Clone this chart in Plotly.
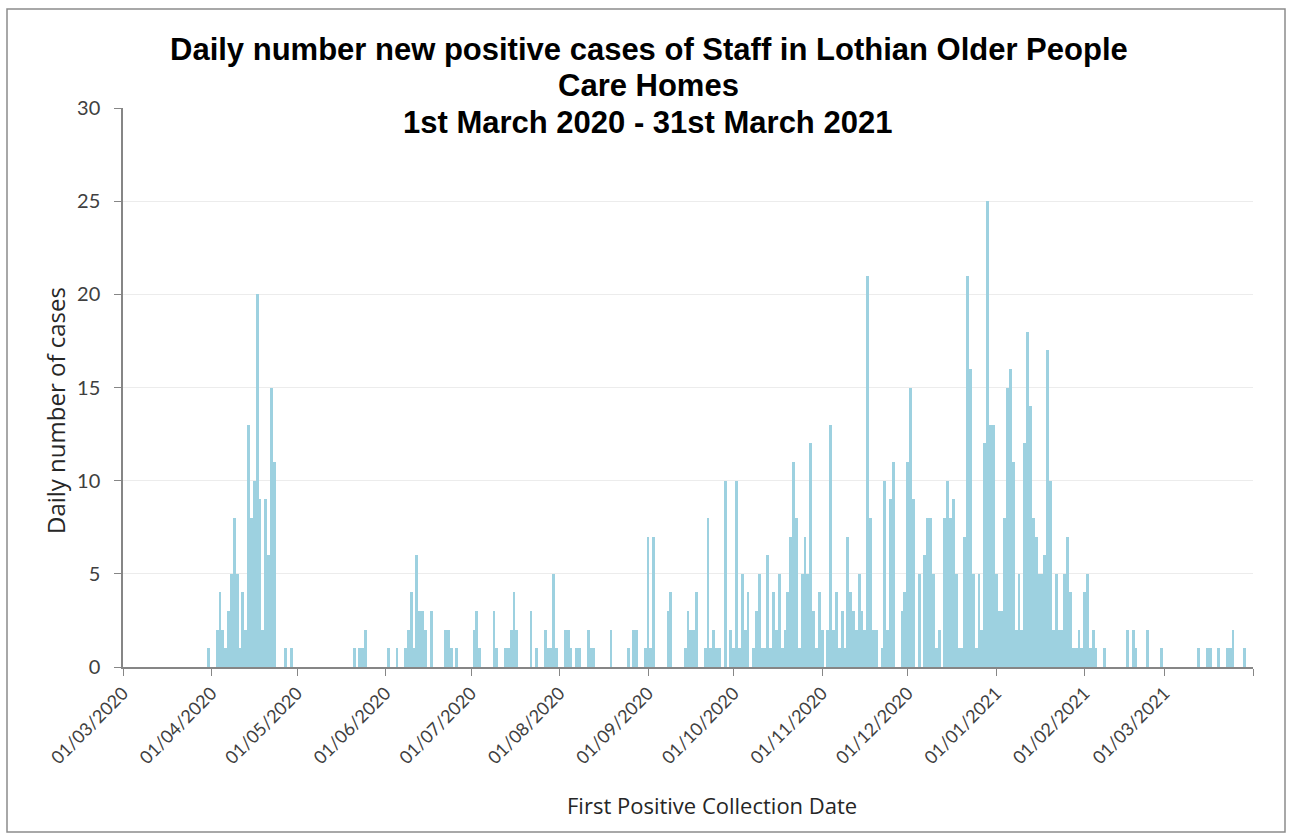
import pandas as pd
import plotly.graph_objects as go

# Daily counts of new positive staff cases, one list per calendar month
mar_2020 = [0, 0, 0, 0, 0, 0, 0, 0, 0, 0, 0, 0, 0, 0, 0, 0, 0, 0, 0, 0,
            0, 0, 0, 0, 0, 0, 0, 0, 0, 0, 1]
apr_2020 = [0, 0, 2, 4, 2, 1, 3, 5, 8, 5, 1, 4, 2, 13, 8, 10, 20, 9, 2, 9,
            6, 15, 11, 0, 0, 0, 1, 0, 1, 0]
may_2020 = [0, 0, 0, 0, 0, 0, 0, 0, 0, 0, 0, 0, 0, 0, 0, 0, 0, 0, 0, 0,
            1, 0, 1, 1, 2, 0, 0, 0, 0, 0, 0]
jun_2020 = [0, 1, 0, 0, 1, 0, 0, 1, 2, 4, 1, 6, 3, 3, 2, 0, 3, 0, 0, 0,
            0, 2, 2, 1, 0, 1, 0, 0, 0, 0]
jul_2020 = [0, 2, 3, 1, 0, 0, 0, 0, 3, 1, 0, 0, 1, 1, 2, 4, 2, 0, 0, 0,
            0, 3, 0, 1, 0, 0, 2, 1, 1, 5, 1]
aug_2020 = [0, 0, 2, 2, 1, 0, 1, 1, 0, 0, 2, 1, 1, 0, 0, 0, 0, 0, 2, 0,
            0, 0, 0, 0, 1, 0, 2, 2, 0, 0, 1]
sep_2020 = [7, 1, 7, 0, 0, 0, 0, 3, 4, 0, 0, 0, 0, 1, 3, 2, 2, 4, 0, 0,
            1, 8, 1, 2, 1, 1, 0, 10, 0, 2]
oct_2020 = [1, 10, 1, 5, 2, 4, 0, 1, 3, 5, 1, 1, 6, 1, 4, 2, 5, 1, 2, 4,
            7, 11, 8, 1, 5, 7, 5, 12, 3, 1, 4]
nov_2020 = [2, 0, 2, 13, 2, 4, 1, 3, 1, 7, 4, 3, 2, 5, 3, 2, 21, 8, 2, 2,
            0, 1, 10, 2, 9, 11, 0, 0, 3, 4]
dec_2020 = [11, 15, 9, 0, 5, 0, 6, 8, 8, 5, 1, 2, 0, 8, 10, 8, 9, 5, 1, 1,
            7, 21, 16, 5, 1, 5, 2, 12, 25, 13, 13]
jan_2021 = [5, 3, 3, 8, 15, 16, 11, 2, 5, 2, 12, 18, 14, 8, 7, 5, 5, 6, 17, 10,
            2, 5, 2, 2, 5, 7, 4, 1, 1, 2, 1]
feb_2021 = [4, 5, 1, 2, 1, 0, 0, 1, 0, 0, 0, 0, 0, 0, 0, 2, 0, 2, 1, 0,
            0, 0, 2, 0, 0, 0, 0, 1]
mar_2021 = [0, 0, 0, 0, 0, 0, 0, 0, 0, 0, 0, 0, 1, 0, 0, 1, 1, 0, 0, 1,
            0, 0, 1, 1, 2, 0, 0, 0, 1, 0, 0]

monthly = [
    ("2020-03-01", mar_2020), ("2020-04-01", apr_2020), ("2020-05-01", may_2020),
    ("2020-06-01", jun_2020), ("2020-07-01", jul_2020), ("2020-08-01", aug_2020),
    ("2020-09-01", sep_2020), ("2020-10-01", oct_2020), ("2020-11-01", nov_2020),
    ("2020-12-01", dec_2020), ("2021-01-01", jan_2021), ("2021-02-01", feb_2021),
    ("2021-03-01", mar_2021),
]

dates, cases = [], []
for start, vals in monthly:
    dates.extend(pd.date_range(start, periods=len(vals), freq="D"))
    cases.extend(vals)

# month-start ticks; the closing tick at the right end carries no label
month_ticks = pd.date_range("2020-03-01", "2021-04-01", freq="MS")
month_labels = [d.strftime("%d/%m/%Y") for d in month_ticks[:-1]] + [""]

title_lines = [
    "Daily number new positive cases of Staff in Lothian Older People",
    "Care Homes",
    "1st March 2020 - 31st March 2021",
]
y_title = "Daily number of cases"
x_title = "First Positive Collection Date"

# plot-area geometry in pixels, used to place the free-floating text and frame
W, H = 1289, 838
L, R, T, B = 123, 36, 108, 171
pw, ph = W - L - R, H - T - B


def px_x(p):
    return (p - L) / pw


def px_y(p):
    return (H - B - p) / ph


axis_grey = "#868686"
title_font = dict(family="Liberation Sans", size=31, color="black", weight="bold")

fig = go.Figure(
    go.Bar(
        x=dates,
        y=cases,
        marker=dict(color="#9dd1e0", line=dict(width=0)),
        hoverinfo="x+y",
    )
)

title_anns = [
    dict(text=line, xref="paper", yref="paper", x=px_x(cx), y=px_y(cy),
         xanchor="center", yanchor="middle", showarrow=False, font=title_font)
    for line, cx, cy in zip(title_lines, (649, 648, 647), (50, 86, 122))
]

fig.update_layout(
    width=W,
    height=H,
    margin=dict(l=L, r=R, t=T, b=B),
    paper_bgcolor="white",
    plot_bgcolor="white",
    bargap=0,
    showlegend=False,
    annotations=title_anns + [
        dict(text=y_title, xref="paper", yref="paper", x=px_x(55), y=px_y(411),
             xanchor="center", yanchor="middle", textangle=-90, showarrow=False,
             font=dict(family="Open Sans", size=24, color="#262626")),
        dict(text=x_title, xref="paper", yref="paper", x=px_x(712), y=px_y(805),
             xanchor="center", yanchor="middle", showarrow=False,
             font=dict(family="Open Sans", size=22, color="#262626")),
    ],
    shapes=[
        dict(type="rect", xref="paper", yref="paper",
             x0=px_x(7), x1=px_x(1285), y0=px_y(832), y1=px_y(9),
             line=dict(color="#8c8c8c", width=1.5), fillcolor="rgba(0,0,0,0)",
             layer="below"),
    ],
)

fig.update_xaxes(
    type="date",
    range=["2020-03-01", "2021-04-01"],
    tickmode="array",
    tickvals=month_ticks,
    ticktext=month_labels,
    tickangle=-45,
    ticks="outside",
    ticklen=7,
    tickcolor=axis_grey,
    showline=True,
    linecolor=axis_grey,
    linewidth=1.5,
    showgrid=False,
    zeroline=False,
    tickfont=dict(family="Lato", size=18, color="#404040"),
)

fig.update_yaxes(
    range=[0, 30],
    tick0=0,
    dtick=5,
    ticks="outside",
    ticklen=7,
    tickcolor=axis_grey,
    showline=True,
    linecolor=axis_grey,
    linewidth=1.5,
    showgrid=True,
    gridcolor="#ececec",
    gridwidth=1,
    zeroline=False,
    tickfont=dict(family="Lato", size=20, color="#404040"),
    ticklabelstandoff=10,
)

fig.write_html("out.html", config={"displayModeBar": False})
